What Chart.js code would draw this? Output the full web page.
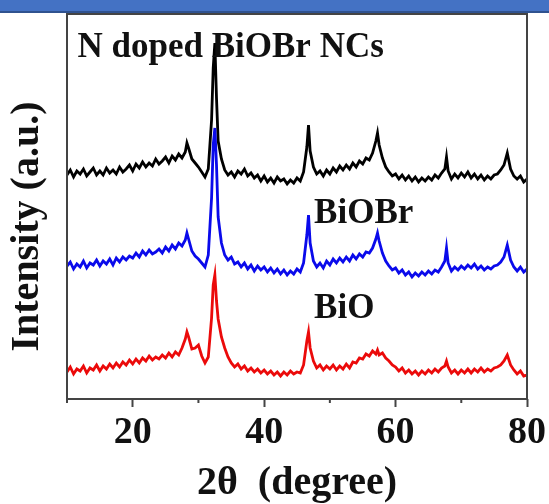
<!DOCTYPE html>
<html>
<head>
<meta charset="utf-8">
<script src="https://cdn.jsdelivr.net/npm/chart.js@4.4.0/dist/chart.umd.min.js"></script>
<style>
html,body{margin:0;padding:0;background:#fff;overflow:hidden}
#wrap{position:absolute;left:0;top:0;width:549px;height:504px}
#bar{position:absolute;left:0;top:0;width:549px;height:11px;background:#4472c4;border-bottom:2px solid #2f528f}
</style>
</head>
<body>
<div id="wrap"><canvas id="xrd" width="549" height="504"></canvas></div>
<div id="bar"></div>
<script>
// 2theta positions (degree)
const twoTheta = [
  10,10.5,11,11.5,12,12.5,13,13.5,14,14.5,
  15,15.5,16,16.5,17,17.5,18,18.5,19,19.5,
  20,20.5,21,21.5,22,22.5,23,23.5,24,24.5,
  25,25.5,26,26.5,27,27.5,
  28,28.25,28.5,29,29.5,30,30.5,31,31.5,32,32.25,32.5,32.75,33,33.5,
  34,34.5,35,35.5,36,36.5,37,37.5,38,38.5,39,39.5,
  40,40.5,41,41.5,42,42.5,43,43.5,44,44.5,45,45.5,46,
  46.5,46.75,47,47.5,48,48.5,49,49.5,50,50.5,51,51.5,52,52.5,53,53.5,54,54.5,55,55.5,56,56.5,57,57.25,57.5,58,58.5,59,59.5,
  60,60.5,61,61.5,62,62.5,63,63.5,64,64.5,65,65.5,66,66.5,67,67.5,67.75,
  68,68.5,69,69.5,70,70.5,71,71.5,72,72.5,73,73.5,74,74.5,75,75.5,76,76.5,77,77.5,78,78.5,79,79.5,80
];

// intensities (a.u., curves already stacked)
const nDoped = [
  228,233,226,232,229,234,227,231,235,228,
  232,228,235,230,233,229,236,231,234,238,
  232,239,235,241,236,240,237,244,239,242,
  246,240,247,243,249,245,
  251,260,255,244,240,236,231,226,234,283,335,360,305,262,244,
  233,228,231,226,232,229,234,227,230,225,228,222,
  227,221,225,220,226,222,224,219,223,220,225,222,231,
  256,278,252,236,229,232,227,233,229,235,231,237,233,238,234,240,236,242,239,245,243,250,262,270,258,245,236,231,227,
  229,224,228,223,227,222,226,221,225,222,226,223,228,225,230,234,246,
  232,224,229,225,230,226,231,225,229,224,228,223,227,224,228,229,233,238,250,234,227,224,227,221,224
];
const biobr = [
  137,141,134,139,136,142,135,140,138,143,
  137,142,139,144,138,145,141,146,143,147,
  145,150,146,152,148,153,149,151,154,150,
  156,152,158,154,160,157,
  163,170,164,152,147,144,140,136,148,205,258,275,238,186,160,
  148,143,146,139,141,136,140,134,138,132,137,133,
  136,131,135,130,134,129,133,128,132,129,134,131,140,
  168,188,160,142,136,140,135,142,138,144,140,145,141,146,142,148,144,149,146,151,150,155,164,170,162,150,142,137,133,
  135,130,133,128,131,126,130,127,131,128,132,129,133,131,136,142,155,
  140,132,136,133,137,134,138,135,139,134,137,133,136,134,137,138,141,146,158,143,136,132,136,131,134
];
const bio = [
  31,36,29,34,32,37,30,35,33,38,
  32,37,34,39,35,40,36,41,38,43,
  39,44,40,45,42,47,43,46,44,48,
  45,50,46,51,48,55,
  64,71,66,54,55,58,47,40,46,85,118,128,102,84,66,
  55,46,40,36,39,34,37,32,35,31,34,30,
  33,29,32,28,31,27,31,28,32,29,31,30,38,
  62,71,55,42,35,38,33,37,34,38,33,37,34,39,35,41,40,45,44,49,47,52,49,53,48,50,45,42,38,
  36,32,35,30,33,29,32,28,32,29,33,30,34,31,35,37,42,
  36,30,33,29,33,30,34,30,34,31,35,31,34,32,35,36,38,42,48,38,33,29,32,27,28
];

const majorTicks = [20, 40, 60, 80];
const minorTicks = [10, 30, 50, 70];

const SERIF = '"Liberation Serif", "Times New Roman", serif';
const pts = arr => twoTheta.map((t, i) => ({x: t, y: arr[i]}));

// sample names written inside the plot (x in degree, y in a.u.)
const notes = [
  {text: 'N doped BiOBr NCs', x: 11.6, y: 346},
  {text: 'BiOBr', x: 47.6, y: 180},
  {text: 'BiO', x: 47.6, y: 85}
];

const frame = {
  id: 'frame',
  afterDraw(chart) {
    const {ctx, chartArea: a, scales} = chart;
    ctx.save();
    ctx.strokeStyle = '#444';
    ctx.lineWidth = 2;
    ctx.strokeRect(a.left, a.top, a.right - a.left, a.bottom - a.top);
    ctx.beginPath();
    minorTicks.forEach(v => {
      const px = scales.x.getPixelForValue(v);
      ctx.moveTo(px, a.bottom);
      ctx.lineTo(px, a.bottom + 4);
    });
    ctx.stroke();
    ctx.fillStyle = '#111';
    ctx.font = 'bold 35px ' + SERIF;
    ctx.textBaseline = 'alphabetic';
    ctx.textAlign = 'left';
    notes.forEach(n => {
      ctx.fillText(n.text, scales.x.getPixelForValue(n.x), scales.y.getPixelForValue(n.y));
    });
    ctx.restore();
  }
};

new Chart(document.getElementById('xrd'), {
  type: 'line',
  data: {
    datasets: [
      {label: 'BiOBr', data: pts(biobr), borderColor: 'rgb(10,10,235)'},
      {label: 'BiO', data: pts(bio), borderColor: 'rgb(235,10,10)'},
      {label: 'N doped BiOBr NCs', data: pts(nDoped), borderColor: '#000'}
    ]
  },
  options: {
    responsive: false,
    animation: false,
    datasets: {line: {borderWidth: 2.8, pointRadius: 0, tension: 0, fill: false}},
    layout: {padding: {top: 14, right: 21, left: 0, bottom: 0}},
    plugins: {legend: {display: false}, tooltip: {enabled: false}},
    scales: {
      x: {
        type: 'linear', min: 10, max: 80,
        afterFit: s => { s.height = 105; },
        ticks: {
          stepSize: 10, autoSkip: false, maxRotation: 0, padding: 3,
          callback: v => majorTicks.includes(v) ? v : '',
          color: '#111',
          font: {family: SERIF, size: 38, weight: 'bold'}
        },
        grid: {
          drawOnChartArea: false, tickLength: 8, tickWidth: 2,
          tickColor: c => majorTicks.includes(c.tick && c.tick.value) ? '#444' : 'rgba(0,0,0,0)'
        },
        border: {display: false},
        title: {
          display: true, text: '2θ  (degree)', color: '#111', padding: 0,
          font: {family: SERIF, size: 40, weight: 'bold', lineHeight: 1}
        }
      },
      y: {
        min: 4, max: 389,
        afterFit: s => { s.width = 67; },
        ticks: {display: false},
        grid: {drawOnChartArea: false, drawTicks: false},
        border: {display: false},
        title: {
          display: true, text: 'Intensity (a.u.)\u00a0\u00a0\u00a0\u00a0', color: '#111', padding: {top: 4},
          font: {family: SERIF, size: 40, weight: 'bold'}
        }
      }
    }
  },
  plugins: [frame]
});
</script>
</body>
</html>
